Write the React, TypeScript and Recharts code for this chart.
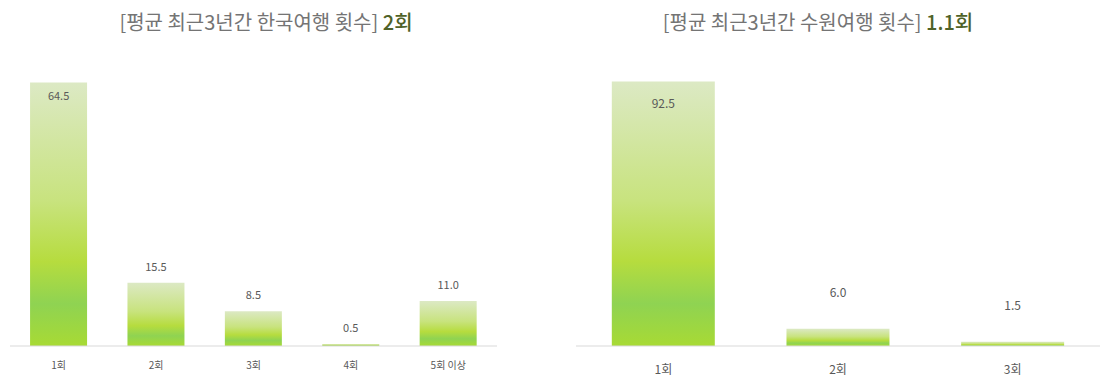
import { BarChart, Bar, XAxis, YAxis, LabelList } from 'recharts'

const koreaCategories = ['1회', '2회', '3회', '4회', '5회 이상']
const koreaValues = [64.5, 15.5, 8.5, 0.5, 11.0]
const koreaAverage = '2회'

const suwonCategories = ['1회', '2회', '3회']
const suwonValues = [92.5, 6.0, 1.5]
const suwonAverage = '1.1회'

const FONT = '"Noto Sans CJK KR", "Noto Sans", sans-serif'
const TEXT = '#595959'
const AXIS_Y = 346

function Gradient({ id }: { id: string }) {
  return (
    <defs>
      <linearGradient id={id} x1="0" y1="0" x2="0" y2="1">
        <stop offset="0%" stopColor="#dce9c4" />
        <stop offset="45%" stopColor="#c8e37e" />
        <stop offset="68%" stopColor="#b6dc3e" />
        <stop offset="84%" stopColor="#8fd352" />
        <stop offset="100%" stopColor="#a8da34" />
      </linearGradient>
    </defs>
  )
}

function makeLabel(max: number, above: number, inside: number, fontSize: number) {
  return (props: any) => {
    const { x, y, width, value } = props
    const ty = value === max ? y + inside : y - above
    return (
      <text x={x + width / 2} y={ty} textAnchor="middle" dominantBaseline="middle" fill={TEXT} fontSize={fontSize} fontFamily={FONT}>
        {Number(value).toFixed(1)}
      </text>
    )
  }
}

// tick text placed at a fixed distance below the axis line
function makeTick(offset: number, fontSize: number) {
  return (props: any) => {
    const { x, payload } = props
    return (
      <text x={x} y={AXIS_Y + offset} textAnchor="middle" dominantBaseline="middle" fill={TEXT} fontSize={fontSize} fontFamily={FONT}>
        {payload.value}
      </text>
    )
  }
}

function Title({ label, value, center }: { label: string; value: string; center: number }) {
  return (
    <div style={{ position: 'absolute', top: 7, left: center - 250, width: 500, textAlign: 'center', fontFamily: FONT, fontSize: 20, lineHeight: '30px', color: '#747474', whiteSpace: 'nowrap' }}>
      {label} <span style={{ color: '#4f6228', fontWeight: 500 }}>{value}</span>
    </div>
  )
}

export default function App() {
  const korea = koreaCategories.map((c, i) => ({ name: c, value: koreaValues[i] }))
  const suwon = suwonCategories.map((c, i) => ({ name: c, value: suwonValues[i] }))
  return (
    <div style={{ position: 'relative', width: 1101, height: 377, background: '#fff' }}>
      <style>{'body { margin: 0; }'}</style>
      <Title label="[평균 최근3년간 한국여행 횟수]" value={koreaAverage} center={266} />
      <Title label="[평균 최근3년간 수원여행 횟수]" value={suwonAverage} center={818} />

      <div style={{ position: 'absolute', left: 0, top: 0 }}>
        <BarChart width={560} height={377} data={korea} margin={{ top: 60, right: 63, bottom: 0, left: 10 }} barCategoryGap="20.6%">
          <Gradient id="gradLeft" />
          <XAxis dataKey="name" height={31} tickLine={false} axisLine={{ stroke: '#d9d9d9' }} tick={makeTick(20, 10)} interval={0} />
          <YAxis hide domain={[0, 70]} />
          <Bar dataKey="value" fill="url(#gradLeft)" isAnimationActive={false}>
            <LabelList dataKey="value" content={makeLabel(64.5, 15, 15, 11)} />
          </Bar>
        </BarChart>
      </div>

      <div style={{ position: 'absolute', left: 560, top: 0 }}>
        <BarChart width={541} height={377} data={suwon} margin={{ top: 60, right: 1, bottom: 0, left: 16 }} barCategoryGap="20.5%">
          <Gradient id="gradRight" />
          <XAxis dataKey="name" height={31} tickLine={false} axisLine={{ stroke: '#d9d9d9' }} tick={makeTick(25, 12)} interval={0} />
          <YAxis hide domain={[0, 100]} />
          <Bar dataKey="value" fill="url(#gradRight)" isAnimationActive={false}>
            <LabelList dataKey="value" content={makeLabel(92.5, 35, 23, 12)} />
          </Bar>
        </BarChart>
      </div>
    </div>
  )
}
